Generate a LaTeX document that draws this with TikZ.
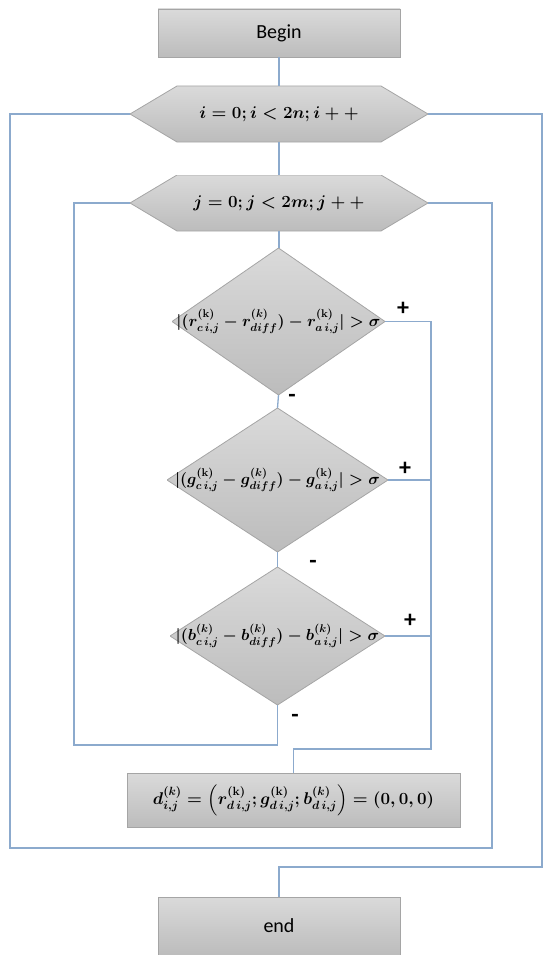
\RequirePackage{fix-cm}
\documentclass[tikz,border=0pt]{standalone}
\usepackage{amsmath}
\usepackage{fontspec}
\newfontfamily\calfont{Carlito}
\definecolor{gtop}{RGB}{218,218,218}
\definecolor{gbot}{RGB}{188,188,188}
\definecolor{gbrd}{RGB}{165,165,165}
\definecolor{lblue}{RGB}{140,170,205}
\tikzset{
  blk/.style={shape=rectangle, inner sep=0pt, outer sep=0pt, top color=gtop, bottom color=gbot, draw=gbrd, line width=0.8pt},
  hexa/.style={shape=rectangle, inner sep=0pt, outer sep=0pt,
    path picture={\shadedraw[top color=gtop,bottom color=gbot,draw=gbrd,line width=0.8pt]
      (path picture bounding box.west) -- ([xshift=47pt]path picture bounding box.north west)
      -- ([xshift=-47pt]path picture bounding box.north east) -- (path picture bounding box.east)
      -- ([xshift=-47pt]path picture bounding box.south east) -- ([xshift=47pt]path picture bounding box.south west) -- cycle;}},
  dia/.style={shape=rectangle, inner sep=0pt, outer sep=0pt,
    path picture={\shadedraw[top color=gtop,bottom color=gbot,draw=gbrd,line width=0.8pt]
      (path picture bounding box.west) -- (path picture bounding box.north)
      -- (path picture bounding box.east) -- (path picture bounding box.south) -- cycle;}},
  sanstext/.style={font=\calfont\fontsize{20}{24}\selectfont},
  mathtext/.style={font=\fontsize{17}{20}\selectfont\boldmath},
  diatext/.style={font=\fontsize{16}{19}\selectfont\boldmath},
  sign/.style={font=\calfont\bfseries\fontsize{24}{26}\selectfont, inner sep=0pt},
  conn/.style={draw=lblue, line width=1.3pt},
}
\begin{document}
\begin{tikzpicture}[x=1pt,y=-1pt]
\useasboundingbox (0,0) rectangle (543,955);
% boxes
\node[blk, sanstext, minimum width=242pt, minimum height=48pt] (begin) at (279,33) {Begin};
\node[hexa, mathtext, minimum width=298pt, minimum height=56pt] (h1) at (279,114) {$i = 0; i < 2n; i + {+}$};
\node[hexa, mathtext, minimum width=298pt, minimum height=56pt] (h2) at (279,203) {$j = 0; j < 2m; j + {+}$};
\node[dia, diatext, minimum width=213pt, minimum height=147pt] (d1) at (278.5,321.5)
  {$|(r^{(\mathbf{k})}_{c\,i,j} - r^{(k)}_{diff}) - r^{(\mathbf{k})}_{a\,i,j}| > \sigma$};
\node[dia, diatext, minimum width=221pt, minimum height=144pt] (d2) at (277.5,480)
  {$|(g^{(\mathbf{k})}_{c\,i,j} - g^{(k)}_{diff}) - g^{(\mathbf{k})}_{a\,i,j}| > \sigma$};
\node[dia, diatext, minimum width=215pt, minimum height=138pt] (d3) at (277.5,636)
  {$|(b^{(k)}_{c\,i,j} - b^{(k)}_{diff}) - b^{(k)}_{a\,i,j}| > \sigma$};
\node[blk, mathtext, minimum width=333pt, minimum height=54pt] (dbox) at (293.5,800)
  {$d^{(k)}_{i,j} = \left(r^{(\mathbf{k})}_{d\,i,j}; g^{(\mathbf{k})}_{d\,i,j}; b^{(k)}_{d\,i,j}\right) = (0,0,0)$};
\node[blk, sanstext, minimum width=242pt, minimum height=58pt] (end) at (279,926) {end};
% signs
\node[sign] (p1) at (403,309) {+};
\node[sign] (p2) at (405,469) {+};
\node[sign] (p3) at (410,621) {+};
\node[sign] (m1) at (292,398) {-};
\node[sign] (m2) at (313,564) {-};
\node[sign] (m3) at (295,718) {-};
% coordinates
\coordinate (rjoin) at (431,749);
\coordinate (jl) at (74,745);
\coordinate (jr) at (492,848);
\coordinate (ol) at (10,848);
\coordinate (er) at (542,867);
% connectors
\draw[conn] (begin.south) -- (h1.north);
\draw[conn] (h1.south) -- (h2.north);
\draw[conn] (h2.south) -- (h2.south |- d1.north);
\draw[conn] (d1.south) -- (d2.north);
\draw[conn] (d2.south) -- (d3.north);
\draw[conn] (d1.east) -| (rjoin) -| (dbox.north);
\draw[conn] (d2.east) -- (d2.east -| rjoin);
\draw[conn] (d3.east) -- (d3.east -| rjoin);
\draw[conn] (d3.south) |- (jl) |- (h2.west);
\draw[conn] (h2.east) -| (jr) -- (ol) |- (h1.west);
\draw[conn] (h1.east) -| (er) -| (end.north);
\end{tikzpicture}
\end{document}
